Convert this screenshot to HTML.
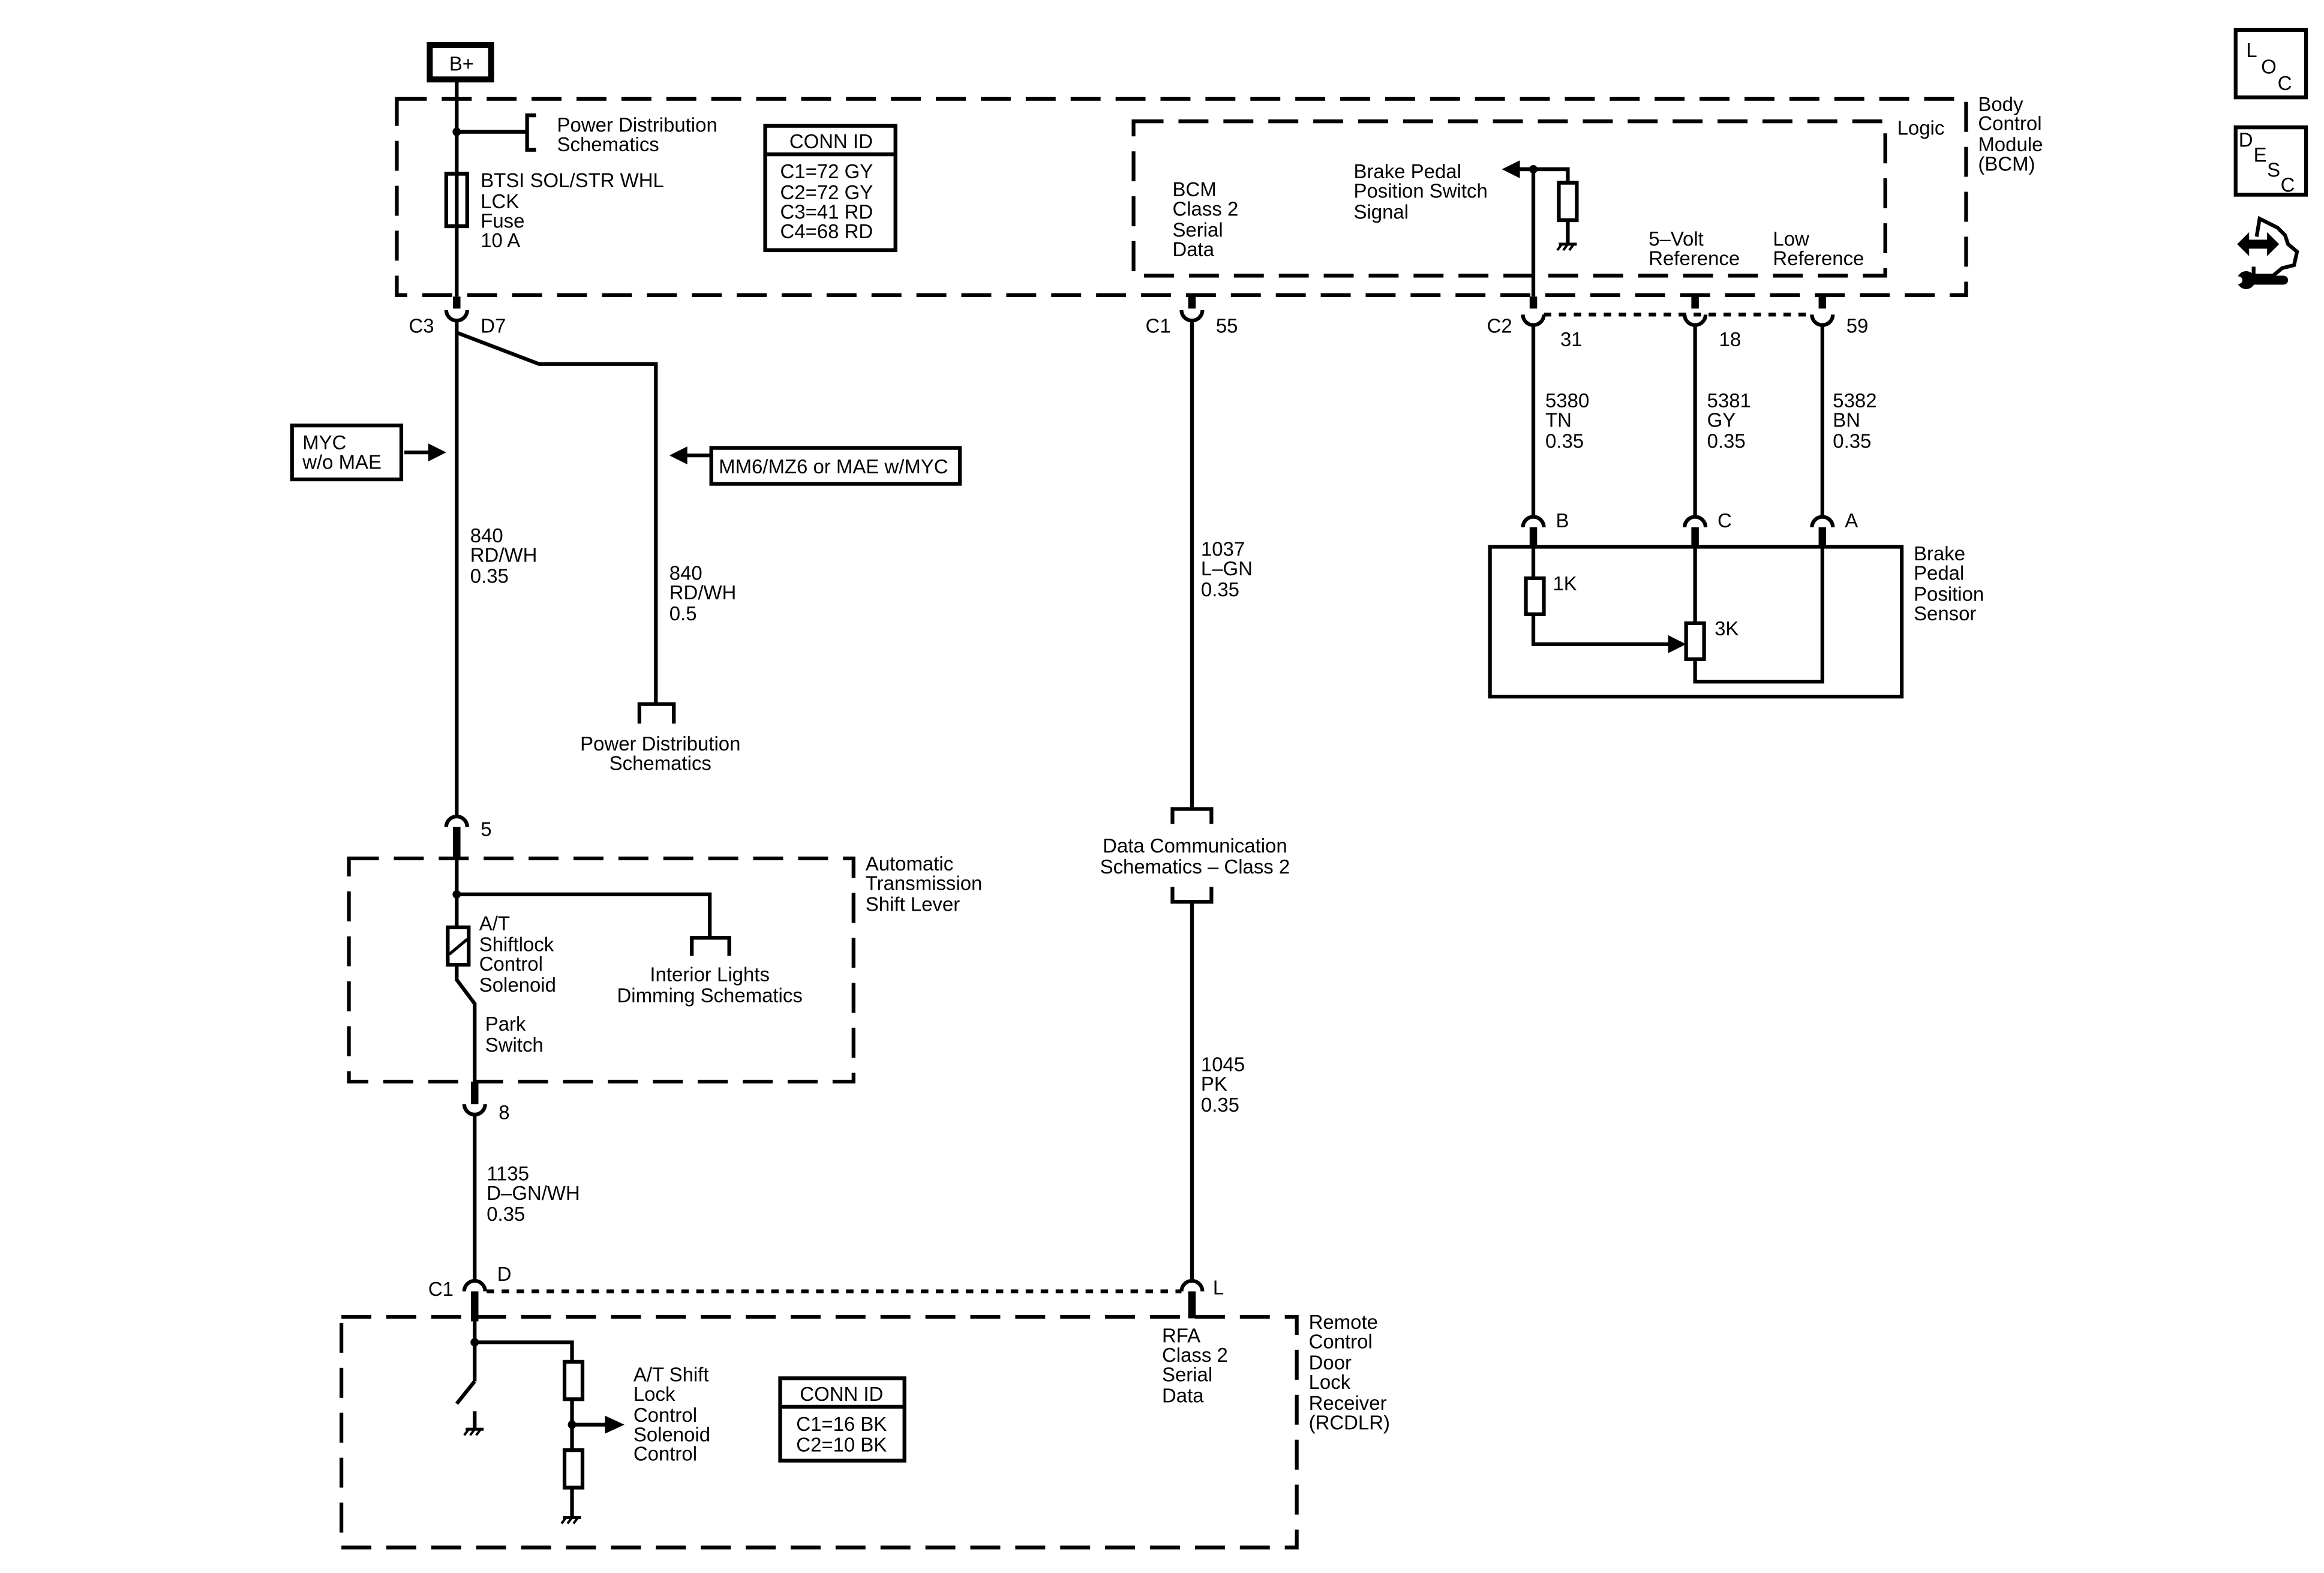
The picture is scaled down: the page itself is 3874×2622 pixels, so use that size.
<!DOCTYPE html>
<html><head><meta charset="utf-8"><style>
html,body{margin:0;padding:0;background:#fff;}
svg{display:block;}
text{font-family:"Liberation Sans",sans-serif;font-size:13.2px;fill:#000;}
</style></head><body>
<svg width="3874" height="2622" viewBox="0 0 1552 1050" preserveAspectRatio="none" xmlns="http://www.w3.org/2000/svg">
<defs>
<g id="gnd"><line x1="-6" y1="0" x2="6" y2="0" stroke="#000" stroke-width="2"/><line x1="-4" y1="0" x2="-7" y2="4" stroke="#000" stroke-width="1.6"/><line x1="0" y1="0" x2="-3" y2="4" stroke="#000" stroke-width="1.6"/><line x1="4" y1="0" x2="1" y2="4" stroke="#000" stroke-width="1.6"/></g>
</defs>
<g fill="none" stroke="#000" stroke-width="2.5">
<!-- dashed boxes -->
<rect x="265" y="66" width="1048" height="131" stroke-dasharray="20,10"/>
<rect x="757" y="81" width="502" height="103" stroke-dasharray="20,10"/>
<rect x="233" y="573" width="337" height="149" stroke-dasharray="20,10"/>
<rect x="228" y="879" width="638" height="154" stroke-dasharray="20,10"/>
<!-- B+ -->
<rect x="287" y="30" width="41" height="23" stroke-width="4"/>
<!-- left main wire -->
<line x1="305" y1="53" x2="305" y2="198"/>
<line x1="305" y1="88" x2="352" y2="88"/>
<polyline points="358,77 352,77 352,100 358,100"/>
<rect x="298" y="116" width="14" height="35"/>
<line x1="305" y1="198" x2="305" y2="206" stroke-width="5"/>
<path d="M298,207 A7,7 0 0 0 312,207"/>
<line x1="305" y1="214" x2="305" y2="545"/>
<polyline points="305,222 360,243 438,243 438,470"/>
<polyline points="427,483 427,470 450,470 450,483"/>
<!-- CONN ID top -->
<rect x="511" y="84" width="87" height="83"/>
<line x1="511" y1="103" x2="598" y2="103"/>
<!-- option boxes -->
<rect x="195" y="284" width="73" height="36"/>
<rect x="475" y="299" width="166" height="24"/>
<line x1="270" y1="302" x2="290" y2="302"/>
<line x1="475" y1="304" x2="456" y2="304"/>
<!-- connector 5 -->
<path d="M298,552 A7,7 0 0 1 312,552"/>
<line x1="305" y1="552" x2="305" y2="574" stroke-width="5"/>
<line x1="305" y1="574" x2="305" y2="619"/>
<polyline points="305,597 474,597 474,626"/>
<polyline points="462,638 462,626 487,626 487,638"/>
<rect x="299" y="619" width="14" height="25"/>
<line x1="300" y1="637" x2="312" y2="627" stroke-width="2"/>
<polyline points="305,644 305,654 317,670 317,722"/>
<line x1="317" y1="722" x2="317" y2="737" stroke-width="5"/>
<path d="M310,737 A7,7 0 0 0 324,737"/>
<line x1="317" y1="744" x2="317" y2="855"/>
<path d="M310,862 A7,7 0 0 1 324,862"/>
<line x1="317" y1="862" x2="317" y2="882" stroke-width="5"/>
<line x1="325" y1="862" x2="789" y2="862" stroke-dasharray="5,5"/>
<!-- RCDLR internals -->
<line x1="317" y1="882" x2="317" y2="922"/>
<line x1="317" y1="922" x2="305" y2="937"/>
<line x1="317" y1="942" x2="317" y2="954"/>
<polyline points="317,896 382,896 382,909"/>
<rect x="377" y="909" width="12" height="25"/>
<line x1="382" y1="934" x2="382" y2="968"/>
<line x1="382" y1="951" x2="405" y2="951"/>
<rect x="377" y="968" width="12" height="25"/>
<line x1="382" y1="993" x2="382" y2="1013"/>
<rect x="521" y="920" width="83" height="55"/>
<line x1="521" y1="939" x2="604" y2="939"/>
<!-- middle wire -->
<line x1="796" y1="198" x2="796" y2="206" stroke-width="5"/>
<path d="M789,207 A7,7 0 0 0 803,207"/>
<line x1="796" y1="214" x2="796" y2="540"/>
<polyline points="783,550 783,540 809,540 809,550"/>
<polyline points="783,592 783,602 809,602 809,592"/>
<line x1="796" y1="602" x2="796" y2="855"/>
<path d="M789,862 A7,7 0 0 1 803,862"/>
<line x1="796" y1="862" x2="796" y2="880" stroke-width="5"/>
<!-- right connectors C2 -->
<line x1="1031" y1="210" x2="1210" y2="210" stroke-dasharray="5,5"/>
<line x1="1024" y1="198" x2="1024" y2="206" stroke-width="5"/>
<line x1="1132" y1="198" x2="1132" y2="206" stroke-width="5"/>
<line x1="1217" y1="198" x2="1217" y2="206" stroke-width="5"/>
<path d="M1017,210 A7,7 0 0 0 1031,210"/>
<path d="M1125,210 A7,7 0 0 0 1139,210"/>
<path d="M1210,210 A7,7 0 0 0 1224,210"/>
<line x1="1024" y1="113" x2="1024" y2="198"/>
<line x1="1024" y1="217" x2="1024" y2="345"/>
<line x1="1132" y1="217" x2="1132" y2="345"/>
<line x1="1217" y1="217" x2="1217" y2="345"/>
<line x1="1024" y1="113" x2="1012" y2="113"/>
<polyline points="1024,113 1047,113 1047,122"/>
<rect x="1041" y="122" width="12" height="25"/>
<line x1="1047" y1="147" x2="1047" y2="163"/>
<path d="M1017,352 A7,7 0 0 1 1031,352"/>
<path d="M1125,352 A7,7 0 0 1 1139,352"/>
<path d="M1210,352 A7,7 0 0 1 1224,352"/>
<line x1="1024" y1="352" x2="1024" y2="366" stroke-width="5"/>
<line x1="1132" y1="352" x2="1132" y2="366" stroke-width="5"/>
<line x1="1217" y1="352" x2="1217" y2="366" stroke-width="5"/>
<rect x="995" y="365" width="275" height="100"/>
<line x1="1024" y1="366" x2="1024" y2="386"/>
<rect x="1019" y="386" width="12" height="24"/>
<polyline points="1024,410 1024,430 1116,430"/>
<line x1="1132" y1="366" x2="1132" y2="416"/>
<rect x="1126" y="416" width="12" height="24"/>
<polyline points="1132,440 1132,455 1217,455 1217,366"/>
<!-- icons -->
<rect x="1493" y="20" width="47" height="45"/>
<rect x="1493" y="85" width="47" height="45"/>
</g>
<!-- dots and arrowheads -->
<g fill="#000">
<circle cx="305" cy="88" r="2.8"/>
<circle cx="305" cy="597" r="2.8"/>
<circle cx="317" cy="896" r="2.8"/>
<circle cx="382" cy="951" r="2.8"/>
<circle cx="1024" cy="113" r="2.8"/>
<polygon points="298,302 286,296 286,308"/>
<polygon points="447,304 459,298 459,310"/>
<polygon points="417,951 404,945 404,957"/>
<polygon points="1003,113 1015,107 1015,119"/>
<polygon points="1126,430 1114,424 1114,436"/>
<!-- service icon -->
<polygon points="1494,163 1502,155 1502,160 1514,160 1514,155 1522,163 1514,171 1514,166 1502,166 1502,171"/>
<rect x="1500" y="184" width="28" height="6" rx="3"/>
<circle cx="1500" cy="187" r="6"/>
</g>
<polyline points="1507,158 1509,146 1521,152 1526,157 1528,163 1534,168 1532,177 1524,179 1518,184 1505,184 1505,178" fill="none" stroke="#000" stroke-width="2.5"/>
<circle cx="1495" cy="187" r="2.5" fill="#fff"/>
<use href="#gnd" x="1047" y="163"/>
<use href="#gnd" x="317" y="954"/>
<use href="#gnd" x="382" y="1013"/>
<!-- text -->
<text x="300" y="47" font-size="13.5">B+</text>
<text x="372" y="88">Power Distribution</text>
<text x="372" y="101">Schematics</text>
<text x="321" y="125">BTSI SOL/STR WHL</text>
<text x="321" y="139">LCK</text>
<text x="321" y="152">Fuse</text>
<text x="321" y="165">10 A</text>
<text x="555" y="99" text-anchor="middle">CONN ID</text>
<text x="521" y="119">C1=72 GY</text>
<text x="521" y="133">C2=72 GY</text>
<text x="521" y="146">C3=41 RD</text>
<text x="521" y="159">C4=68 RD</text>
<text x="273" y="222">C3</text>
<text x="321" y="222">D7</text>
<text x="202" y="300">MYC</text>
<text x="202" y="313">w/o MAE</text>
<text x="480" y="316">MM6/MZ6 or MAE w/MYC</text>
<text x="314" y="362">840</text>
<text x="314" y="375">RD/WH</text>
<text x="314" y="389">0.35</text>
<text x="447" y="387">840</text>
<text x="447" y="400">RD/WH</text>
<text x="447" y="414">0.5</text>
<text x="441" y="501" text-anchor="middle">Power Distribution</text>
<text x="441" y="514" text-anchor="middle">Schematics</text>
<text x="321" y="558">5</text>
<text x="578" y="581">Automatic</text>
<text x="578" y="594">Transmission</text>
<text x="578" y="608">Shift Lever</text>
<text x="320" y="621">A/T</text>
<text x="320" y="635">Shiftlock</text>
<text x="320" y="648">Control</text>
<text x="320" y="662">Solenoid</text>
<text x="474" y="655" text-anchor="middle">Interior Lights</text>
<text x="474" y="669" text-anchor="middle">Dimming Schematics</text>
<text x="324" y="688">Park</text>
<text x="324" y="702">Switch</text>
<text x="333" y="747">8</text>
<text x="325" y="788">1135</text>
<text x="325" y="801">D–GN/WH</text>
<text x="325" y="815">0.35</text>
<text x="286" y="865">C1</text>
<text x="332" y="855">D</text>
<text x="810" y="864">L</text>
<text x="423" y="922">A/T Shift</text>
<text x="423" y="935">Lock</text>
<text x="423" y="949">Control</text>
<text x="423" y="962">Solenoid</text>
<text x="423" y="975">Control</text>
<text x="562" y="935" text-anchor="middle">CONN ID</text>
<text x="562" y="955" text-anchor="middle">C1=16 BK</text>
<text x="562" y="969" text-anchor="middle">C2=10 BK</text>
<text x="776" y="896">RFA</text>
<text x="776" y="909">Class 2</text>
<text x="776" y="922">Serial</text>
<text x="776" y="936">Data</text>
<text x="874" y="887">Remote</text>
<text x="874" y="900">Control</text>
<text x="874" y="914">Door</text>
<text x="874" y="927">Lock</text>
<text x="874" y="941">Receiver</text>
<text x="874" y="954">(RCDLR)</text>
<text x="765" y="222">C1</text>
<text x="812" y="222">55</text>
<text x="802" y="371">1037</text>
<text x="802" y="384">L–GN</text>
<text x="802" y="398">0.35</text>
<text x="798" y="569" text-anchor="middle">Data Communication</text>
<text x="798" y="583" text-anchor="middle">Schematics – Class 2</text>
<text x="802" y="715">1045</text>
<text x="802" y="728">PK</text>
<text x="802" y="742">0.35</text>
<text x="783" y="131">BCM</text>
<text x="783" y="144">Class 2</text>
<text x="783" y="158">Serial</text>
<text x="783" y="171">Data</text>
<text x="904" y="119">Brake Pedal</text>
<text x="904" y="132">Position Switch</text>
<text x="904" y="146">Signal</text>
<text x="1101" y="164">5–Volt</text>
<text x="1101" y="177">Reference</text>
<text x="1184" y="164">Low</text>
<text x="1184" y="177">Reference</text>
<text x="1267" y="90">Logic</text>
<text x="1321" y="74">Body</text>
<text x="1321" y="87">Control</text>
<text x="1321" y="101">Module</text>
<text x="1321" y="114">(BCM)</text>
<text x="993" y="222">C2</text>
<text x="1042" y="231">31</text>
<text x="1148" y="231">18</text>
<text x="1233" y="222">59</text>
<text x="1032" y="272">5380</text>
<text x="1032" y="285">TN</text>
<text x="1032" y="299">0.35</text>
<text x="1140" y="272">5381</text>
<text x="1140" y="285">GY</text>
<text x="1140" y="299">0.35</text>
<text x="1224" y="272">5382</text>
<text x="1224" y="285">BN</text>
<text x="1224" y="299">0.35</text>
<text x="1039" y="352">B</text>
<text x="1147" y="352">C</text>
<text x="1232" y="352">A</text>
<text x="1037" y="394">1K</text>
<text x="1145" y="424">3K</text>
<text x="1278" y="374">Brake</text>
<text x="1278" y="387">Pedal</text>
<text x="1278" y="401">Position</text>
<text x="1278" y="414">Sensor</text>
<text x="1500" y="38" font-size="12">L</text>
<text x="1510" y="49" font-size="12">O</text>
<text x="1521" y="60" font-size="12">C</text>
<text x="1495" y="98" font-size="12">D</text>
<text x="1505" y="108" font-size="12">E</text>
<text x="1514" y="118" font-size="12">S</text>
<text x="1523" y="128" font-size="12">C</text>
</svg>
</body></html>
